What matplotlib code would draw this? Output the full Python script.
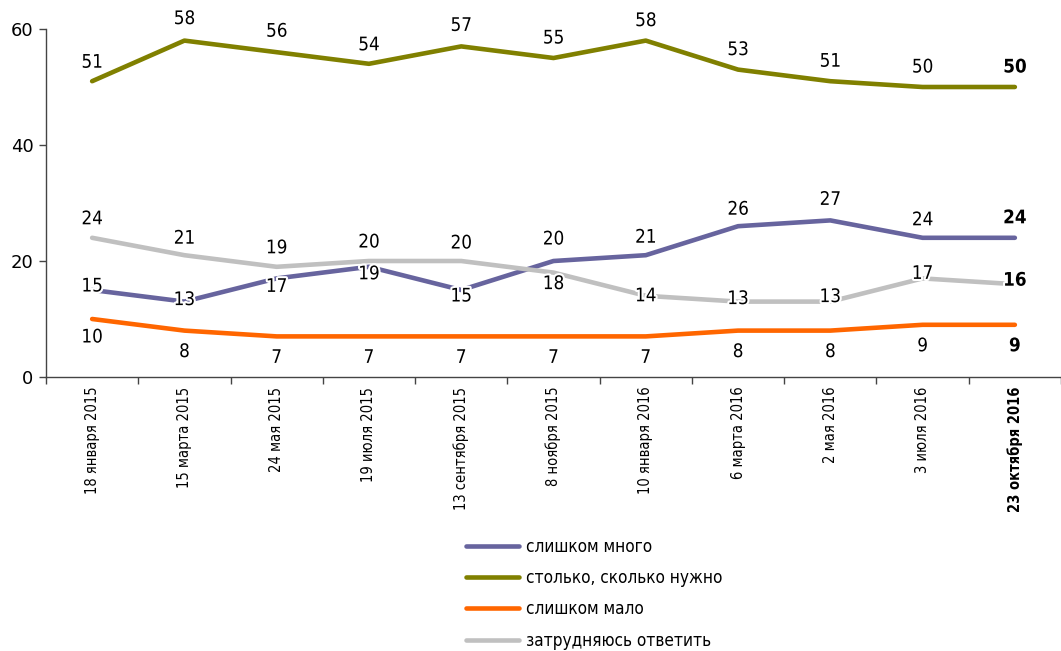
import matplotlib
matplotlib.use("Agg")
import matplotlib.pyplot as plt
import matplotlib.patheffects as pe
import numpy as np

dates = ["18 января 2015", "15 марта 2015", "24 мая 2015", "19 июля 2015",
         "13 сентября 2015", "8 ноября 2015", "10 января 2016", "6 марта 2016",
         "2 мая 2016", "3 июля 2016", "23 октября 2016"]

too_much = [15, 13, 17, 19, 15, 20, 21, 26, 27, 24, 24]
as_needed = [51, 58, 56, 54, 57, 55, 58, 53, 51, 50, 50]
too_little = [10, 8, 7, 7, 7, 7, 7, 8, 8, 9, 9]
hard_to_say = [24, 21, 19, 20, 20, 18, 14, 13, 13, 17, 16]

series_names = ["слишком много", "столько, сколько нужно", "слишком мало", "затрудняюсь ответить"]
colors = ["#67649E", "#808000", "#FF6600", "#C0C0C0"]

# label vertical offsets in pixels (style only)
offs = [
    [4, 2, -8, -7, -6, 22, 18, 17, 21, 18, 20],
    [19, 22, 21, 19, 21, 20, 20, 20, 20, 20, 20],
    [-18, -21, -21, -21, -21, -21, -21, -21, -21, -21, -21],
    [19, 17, 19, 19, 18, -11, 0, 3, 5, 5, 4],
]

plt.rcParams['font.family'] = ['DejaVu Sans']
W, H = 1061, 651
fig = plt.figure(figsize=(W / 100, H / 100), dpi=100)
ax = fig.add_axes([46 / W, 1 - 377 / H, (1061 - 46) / W, 348 / H])

x = np.arange(len(dates))
all_series = [too_much, as_needed, too_little, hard_to_say]
for vals, c, name in zip(all_series, colors, series_names):
    ax.plot(x, vals, color=c, lw=3.3, solid_capstyle='round', solid_joinstyle='round', label=name)

stroke = [pe.withStroke(linewidth=3, foreground='white')]
for vals, off in zip(all_series, offs):
    for i, (v, o) in enumerate(zip(vals, off)):
        ax.annotate(str(v), (x[i], v), xytext=(0, o * 0.72), textcoords='offset points',
                    ha='center', va='center', fontsize=13.5, fontstretch='condensed',
                    fontweight='bold' if i == len(vals) - 1 else 'normal',
                    color='black', path_effects=stroke, zorder=5)

ax.set_xlim(-0.5, len(dates) - 0.5)
ax.set_ylim(0, 60)
ax.set_yticks([0, 20, 40, 60])
ax.tick_params(axis='y', labelsize=13, length=5, width=1, color='#444444', pad=4)
ax.set_xticks(x)
ax.set_xticklabels(dates, rotation=90, fontsize=10.5, fontstretch='condensed', va='top')
ax.get_xticklabels()[-1].set_fontweight('bold')
ax.tick_params(axis='x', length=0, pad=7)
ax.set_xticks(np.arange(-0.5, len(dates), 1), minor=True)
ax.tick_params(axis='x', which='minor', length=5, width=1, color='#444444')
for s in ['top', 'right']:
    ax.spines[s].set_visible(False)
for s in ['left', 'bottom']:
    ax.spines[s].set_color('#444444')
    ax.spines[s].set_linewidth(1)

handles, labels = ax.get_legend_handles_labels()
leg = fig.legend(handles, labels, loc='upper left', bbox_to_anchor=(457 / W, 1 - 529 / H),
                 frameon=False, fontsize=12.3, handlelength=3.1, handletextpad=0.45,
                 labelspacing=0.78, borderpad=0)
for t in leg.get_texts():
    t.set_fontstretch('condensed')

fig.savefig("out.png", dpi=100)
